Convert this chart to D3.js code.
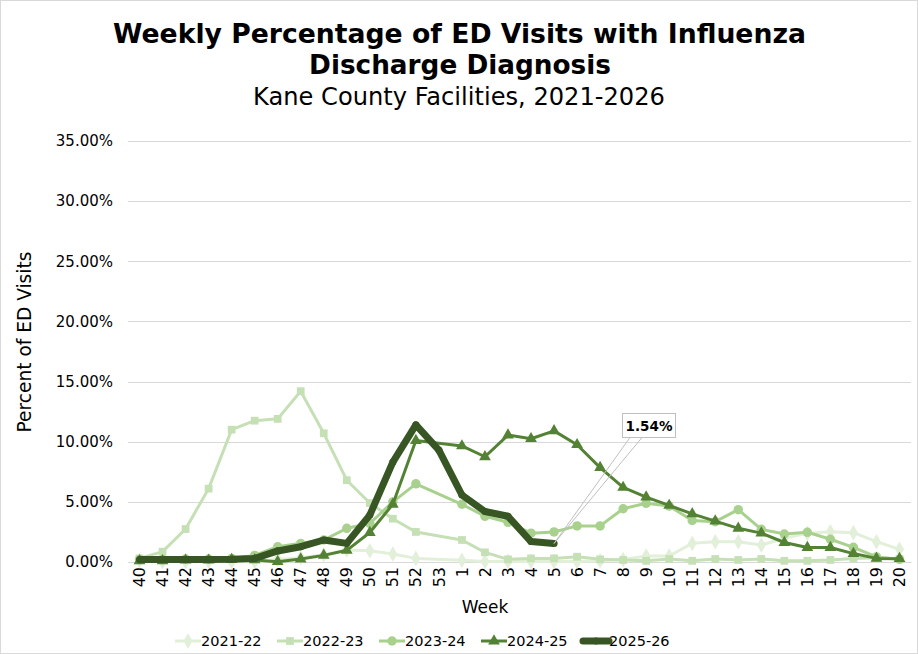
<!DOCTYPE html>
<html>
<head>
<meta charset="utf-8">
<script src="https://cdn.jsdelivr.net/npm/d3@7"></script>
<style>
  body { margin: 0; background: #fff; }
  svg text { font-family: "DejaVu Sans", Verdana, sans-serif; fill: #000; }
</style>
</head>
<body>
<div class="chart"></div>
<script>
// weeks of the flu season, 40 .. 53 then 1 .. 20
const weeks = ["40","41","42","43","44","45","46","47","48","49","50","51","52","53",
  "1","2","3","4","5","6","7","8","9","10","11","12","13","14","15","16","17","18","19","20"];

// percent of ED visits (null = no such week that season)
const s2122 = [0.1,0.05,0.05,0.05,0.05,0.05,0.2,0.35,0.6,1.0,0.94,0.66,0.3,null,
  0.15,0.05,0.05,0.05,0.05,0.05,0.1,0.2,0.5,0.5,1.55,1.69,1.69,1.41,1.97,2.38,2.52,2.44,1.69,1.05];
const s2223 = [0.3,0.86,2.74,6.1,11.0,11.75,11.9,14.2,10.7,6.8,4.9,3.6,2.5,null,
  1.83,0.8,0.22,0.3,0.3,0.44,0.22,0.17,0.1,0.25,0.1,0.25,0.17,0.25,0.1,0.1,0.17,0.3,0.35,0.25];
const s2324 = [0.2,0.2,0.25,0.25,0.3,0.55,1.27,1.55,1.83,2.8,3.2,5.0,6.5,null,
  4.8,3.8,3.3,2.4,2.5,3.0,3.0,4.43,4.88,4.65,3.45,3.35,4.35,2.72,2.33,2.47,1.89,1.22,0.42,0.22];
const s2425 = [0.1,0.1,0.15,0.15,0.2,0.17,0.03,0.25,0.55,0.97,2.45,4.8,10.1,null,
  9.65,8.75,10.55,10.25,10.9,9.75,7.85,6.2,5.4,4.7,4.0,3.4,2.8,2.4,1.62,1.2,1.2,0.7,0.3,0.28];
const s2526 = [0.2,0.2,0.2,0.2,0.22,0.3,0.92,1.27,1.83,1.55,3.9,8.3,11.4,9.3,
  5.57,4.2,3.8,1.7,1.54];

const seasonNames = ["2021-22","2022-23","2023-24","2024-25","2025-26"];
const seasonColors = ["#e2efd9","#c5e0b4","#a9d18e","#548235","#375623"];
const yTicks = [0,5,10,15,20,25,30,35];

const W = 918, H = 654;
const margin = {left: 128, right: 7, top: 141, bottom: 92};

const series = [
  {name: seasonNames[0], values: s2122, color: seasonColors[0], symbol: d3.symbolDiamond, size: 70, width: 3},
  {name: seasonNames[1], values: s2223, color: seasonColors[1], symbol: d3.symbolSquare, size: 60, width: 3},
  {name: seasonNames[2], values: s2324, color: seasonColors[2], symbol: d3.symbolCircle, size: 70, width: 3},
  {name: seasonNames[3], values: s2425, color: seasonColors[3], symbol: d3.symbolTriangle, size: 60, width: 3},
  {name: seasonNames[4], values: s2526, color: seasonColors[4], symbol: d3.symbolCircle, size: 40, width: 7}
];

const svg = d3.select("div.chart").append("svg")
  .attr("width", W).attr("height", H);

svg.append("rect")
  .attr("x", 0.5).attr("y", 0.5).attr("width", W - 1).attr("height", H - 1)
  .attr("fill", "#fff").attr("stroke", "#d9d9d9");

const x = d3.scaleBand()
  .domain(weeks)
  .range([margin.left, W - margin.right]);

const y = d3.scaleLinear()
  .domain([0, 35])
  .range([H - margin.bottom, margin.top]);

// fit a text to a width by changing its font size
function fitText(sel, targetW) {
  const w = sel.node().getComputedTextLength();
  const fs = parseFloat(sel.attr("font-size"));
  sel.attr("font-size", fs * targetW / w);
}

// titles
const t1 = svg.append("text").attr("x", 459.5).attr("y", 43)
  .attr("text-anchor", "middle").attr("font-weight", "bold").attr("font-size", 26)
  .text("Weekly Percentage of ED Visits with Influenza");
fitText(t1, 693);
const t2 = svg.append("text").attr("x", 460).attr("y", 74)
  .attr("text-anchor", "middle").attr("font-weight", "bold").attr("font-size", 26)
  .text("Discharge Diagnosis");
fitText(t2, 302);
const t3 = svg.append("text").attr("x", 459).attr("y", 105)
  .attr("text-anchor", "middle").attr("font-size", 22)
  .text("Kane County Facilities, 2021-2026");
fitText(t3, 412);

// gridlines + y axis
svg.append("g").selectAll("line").data(yTicks).enter().append("line")
  .attr("x1", margin.left).attr("x2", W - margin.right)
  .attr("y1", d => Math.round(y(d)) + 0.5).attr("y2", d => Math.round(y(d)) + 0.5)
  .attr("stroke", "#d9d9d9").attr("stroke-width", 1);

const yAxis = svg.append("g")
  .attr("transform", `translate(${margin.left - 12},0)`)
  .call(d3.axisLeft(y).tickValues(yTicks).tickSize(0).tickFormat(d => d.toFixed(2) + "%"));
yAxis.select(".domain").remove();
yAxis.selectAll("text")
  .attr("font-size", 15).attr("fill", "#000")
  .attr("font-family", "DejaVu Sans, sans-serif");

// x axis
const xAxis = svg.append("g")
  .attr("transform", `translate(0,${y(0)})`)
  .call(d3.axisBottom(x).tickSize(0));
xAxis.select(".domain").attr("stroke", "#d9d9d9");
xAxis.selectAll("text")
  .attr("font-size", 16).attr("fill", "#000")
  .attr("font-family", "DejaVu Sans, sans-serif")
  .attr("text-anchor", "end")
  .attr("transform", "rotate(-90)")
  .attr("x", -5).attr("y", 0).attr("dy", "0.35em");

svg.append("text").attr("x", 485).attr("y", 613)
  .attr("text-anchor", "middle").attr("font-size", 17).text("Week");

const yTitle = svg.append("text")
  .attr("transform", "translate(31,342) rotate(-90)")
  .attr("text-anchor", "middle").attr("font-size", 18).text("Percent of ED Visits");
fitText(yTitle, 181);

// lines
const line = d3.line()
  .x(d => x(d.week) + x.bandwidth() / 2)
  .y(d => y(d.v))
  .curve(d3.curveLinear);

series.forEach(s => {
  const pts = weeks.map((w, i) => ({week: w, v: s.values[i]}))
    .filter(d => d.v !== null && d.v !== undefined);
  const g = svg.append("g");
  g.append("path").datum(pts)
    .attr("d", line)
    .attr("fill", "none")
    .attr("stroke", s.color)
    .attr("stroke-width", s.width)
    .attr("stroke-linejoin", "round");
  g.selectAll("path.mark").data(pts).enter().append("path")
    .attr("class", "mark")
    .attr("d", d3.symbol().type(s.symbol).size(s.size))
    .attr("transform", d => `translate(${x(d.week) + x.bandwidth() / 2},${y(d.v)})`)
    .attr("fill", s.color);
});

// callout on last value of current season
const lastI = s2526.length - 1;
const px = x(weeks[lastI]) + x.bandwidth() / 2;
const py = y(s2526[lastI]);
const box = {x: 622, y: 413.5, w: 53, h: 24};
svg.append("path")
  .attr("d", `M${box.x + 8},${box.y + box.h} L${px},${py} L${box.x + 20},${box.y + box.h}`)
  .attr("fill", "none").attr("stroke", "#bfbfbf").attr("stroke-width", 1);
svg.append("rect")
  .attr("x", box.x + 0.5).attr("y", box.y).attr("width", box.w).attr("height", box.h)
  .attr("fill", "#fff").attr("stroke", "#bfbfbf");
svg.append("text")
  .attr("x", box.x + box.w / 2 + 0.5).attr("y", box.y + 17)
  .attr("text-anchor", "middle").attr("font-weight", "bold").attr("font-size", 13.5)
  .text(s2526[lastI].toFixed(2) + "%");

// legend
const legend = svg.append("g").selectAll("g").data(series).enter().append("g")
  .attr("transform", (d, i) => `translate(${175 + i * 102},641)`);
legend.append("line")
  .attr("x1", 0).attr("x2", 26).attr("y1", 0).attr("y2", 0)
  .attr("stroke", d => d.color).attr("stroke-width", d => d.width)
  .attr("stroke-linecap", d => d.width > 5 ? "round" : "butt");
legend.append("path")
  .attr("d", d => d3.symbol().type(d.symbol).size(d.size)())
  .attr("transform", "translate(13,0)")
  .attr("fill", d => d.color);
legend.append("text")
  .attr("x", 26).attr("y", 0).attr("dy", "0.36em")
  .attr("font-size", 14.5).text(d => d.name);
</script>
</body>
</html>
